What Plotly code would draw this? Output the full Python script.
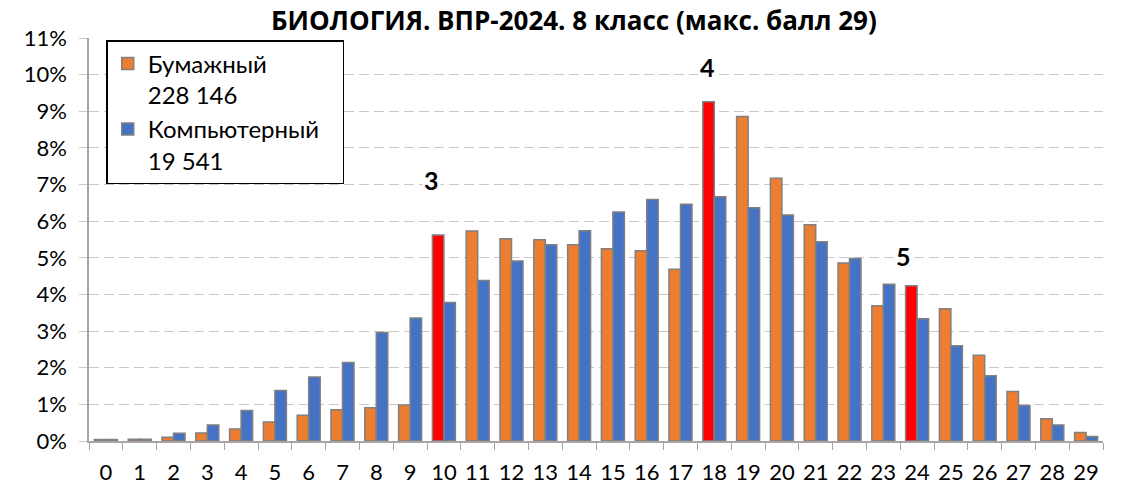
import plotly.graph_objects as go

scores = [str(i) for i in range(30)]
paper = [0.04, 0.05, 0.10, 0.22, 0.33, 0.52, 0.70, 0.85, 0.91, 0.98,
         5.62, 5.73, 5.52, 5.49, 5.36, 5.25, 5.19, 4.69, 9.26, 8.86,
         7.17, 5.90, 4.86, 3.69, 4.24, 3.61, 2.34, 1.35, 0.61, 0.23]
computer = [0.04, 0.05, 0.21, 0.44, 0.83, 1.38, 1.75, 2.14, 2.96, 3.36,
            3.78, 4.38, 4.91, 5.36, 5.74, 6.25, 6.59, 6.46, 6.67, 6.37,
            6.17, 5.44, 4.98, 4.28, 3.34, 2.60, 1.78, 0.97, 0.44, 0.12]
threshold_scores = ["10", "18", "24"]
grade_labels = ["3", "4", "5"]
grade_label_y = [7.13, 10.2, 5.05]
paper_name = "Бумажный<br>228 146"
computer_name = "Компьютерный&nbsp;&nbsp;&nbsp;<br>19 541"
title = "БИОЛОГИЯ. ВПР-2024. 8 класс (макс. балл 29)"

ORANGE = "#ED7D31"
BLUE = "#4472C4"
RED = "#FF0000"
EDGE = "#808080"
FONT = "Lato"

paper_colors = [RED if s in threshold_scores else ORANGE for s in scores]

fig = go.Figure()
fig.add_bar(x=scores, y=paper, name=paper_name,
            marker=dict(color=paper_colors, line=dict(color=EDGE, width=1.5)))
fig.add_bar(x=scores, y=computer, name=computer_name,
            marker=dict(color=BLUE, line=dict(color=EDGE, width=1.5)))

xshifts = [-12, -7, -14]
for s, t, yv, xs in zip(threshold_scores, grade_labels, grade_label_y, xshifts):
    fig.add_annotation(x=s, y=yv, text="<b>%s</b>" % t, showarrow=False,
                       xshift=xs, font=dict(family=FONT, size=25, color="black"),
                       bgcolor="white")

fig.update_layout(
    width=1123, height=489,
    margin=dict(l=89, r=20, t=38, b=48, autoexpand=False),
    paper_bgcolor="white", plot_bgcolor="white",
    barmode="group", bargap=0.32, bargroupgap=0,
    title=dict(text="<b>%s</b>" % title, x=0.511, xanchor="center",
               y=0.958, yanchor="middle", yref="container",
               font=dict(family="Open Sans", size=26, color="black")),
    font=dict(family=FONT, color="black"),
    legend=dict(x=0.017, y=0.995, xanchor="left", yanchor="top",
                bgcolor="white", bordercolor="black", borderwidth=1.5,
                font=dict(family=FONT, size=24, color="black"),
                tracegroupgap=4, valign="top", itemwidth=30),
    showlegend=True,
)
fig.update_xaxes(type="category", showline=True, linecolor="#A6A6A6", linewidth=1.5,
                 ticks="outside", tickson="boundaries", ticklen=7, tickcolor="#A6A6A6",
                 ticklabelstandoff=11, tickangle=0, automargin=False,
                 tickfont=dict(family=FONT, size=22, color="black"), showgrid=False)
fig.update_yaxes(range=[0, 11], dtick=1, ticksuffix="%", showline=True,
                 linecolor="#A6A6A6", linewidth=1.5, ticks="outside", ticklen=8,
                 tickcolor="#C8C8C8", showgrid=True, gridcolor="#C8C8C8",
                 griddash="10px,5px", gridwidth=1.2, zeroline=False,
                 ticklabelstandoff=8, automargin=False,
                 tickfont=dict(family=FONT, size=22, color="black"))

fig.write_html("out.html", config={"displayModeBar": False},
               post_script="document.body.style.margin='0';document.body.style.padding='0';")
